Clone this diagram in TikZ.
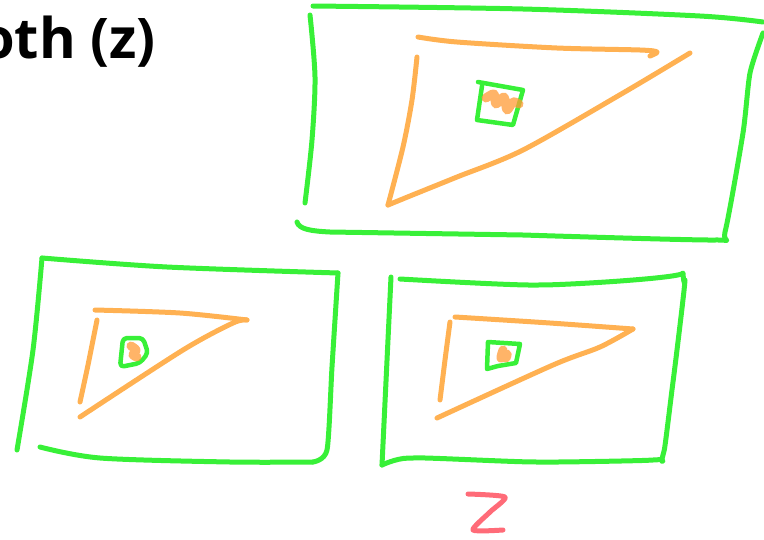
\documentclass[tikz,border=0pt]{standalone}
\usepackage{fontspec}
\setsansfont{Open Sans}
\definecolor{penGreen}{HTML}{38F038}
\definecolor{penOrange}{HTML}{FFB152}
\definecolor{dotOrange}{HTML}{FF9B35}
\definecolor{penRed}{HTML}{FF6B78}

\begin{document}
\begin{tikzpicture}[x=1pt, y=-1pt,
    pen/.style={line width=5pt, line cap=round, line join=round},
    frame/.style={pen, draw=penGreen},
    wedge/.style={pen, draw=penOrange},
    spot/.style={line width=9pt, line cap=round, line join=round, draw=dotOrange, opacity=.75}
]
    \useasboundingbox (0,0) rectangle (764,539);

    % Title (cut at the left edge)
    \node[anchor=base west, inner sep=0pt, font=\sffamily\bfseries\fontsize{56}{60}\selectfont] (title) at (-20,58) {oth (z)};

    % Big frame, top right
    \draw[frame] plot[smooth] coordinates {(313,6) (523,9) (700,16) (763,22)};
    \draw[frame] plot[smooth] coordinates {(310,15) (315,77) (312,140) (305,203)};
    \draw[frame] (297,222) .. controls (299,229) and (310,231) .. (330,232)
        -- plot[smooth, tension=.4] coordinates {(523,235) (714,240) (725,232) (743,133) (750,73) (763,33)};
    \draw[wedge] plot[smooth, tension=.5] coordinates {(418,37) (457,42) (557,48) (640,50) (657,52) (650,56)};
    \draw[wedge] plot[smooth] coordinates {(417,57) (412,100) (403,147) (388,205)};
    \draw[wedge] plot[smooth] coordinates {(388,205) (410,196) (457,177) (523,150) (623,93) (690,53)};
    \draw[frame, line width=4.5pt] (478,82) -- (523,90) -- (513,125) -- (477,120) -- (482,86);
    \draw[spot] plot[smooth] coordinates {(486,98) (494,94) (496,104) (504,97) (507,110) (513,102) (519,104)};

    % Small frame, bottom left
    \draw[frame] plot[smooth] coordinates {(42,258) (167,267) (338,273)};
    \draw[frame] plot[smooth] coordinates {(42,258) (33,350) (17,450)};
    \draw[frame] plot[smooth, tension=.4] coordinates {(338,273) (332,367) (327,450) (313,462)};
    \draw[frame] plot[smooth] coordinates {(40,447) (100,458) (230,462) (313,462)};
    \draw[wedge] plot[smooth] coordinates {(95,310) (180,313) (247,320)};
    \draw[wedge] plot[smooth] coordinates {(97,320) (88,365) (80,402)};
    \draw[wedge] plot[smooth] coordinates {(247,320) (233,323) (183,350) (80,417)};
    \draw[frame, line width=4.5pt, rounded corners=4pt] (123,338) -- (143,338) -- (148,353) -- (140,363) -- (120,367) -- cycle;
    \draw[spot] plot[smooth] coordinates {(131,346) (136,350) (133,355) (137,357)};

    % Small frame, bottom right
    \draw[frame] (391,277) -- (382,465);
    \draw[frame, rounded corners=5pt] plot[smooth, tension=.4] coordinates {(400,279) (537,285) (683,278)} -- plot[smooth, tension=.4] coordinates {(685,285) (673,382) (663,455) (653,460) (537,462) (413,458) (382,465)};
    \draw[wedge] plot[smooth] coordinates {(455,317) (550,323) (633,329)};
    \draw[wedge] plot[smooth] coordinates {(450,322) (445,360) (440,400)};
    \draw[wedge] plot[smooth] coordinates {(633,329) (600,347) (553,365) (437,418)};
    \draw[frame, line width=4.5pt] (488,342) -- (520,344) -- (516,363) -- (498,366) -- (487,369) -- cycle;
    \draw[spot] plot[smooth] coordinates {(503,350) (501,358) (507,354) (506,358)};

    % Label under the right frame
    \draw[pen, draw=penRed] plot[smooth, tension=.4] coordinates {(468,494) (505,497) (490,512) (473,530) (503,530)};
\end{tikzpicture}
\end{document}
